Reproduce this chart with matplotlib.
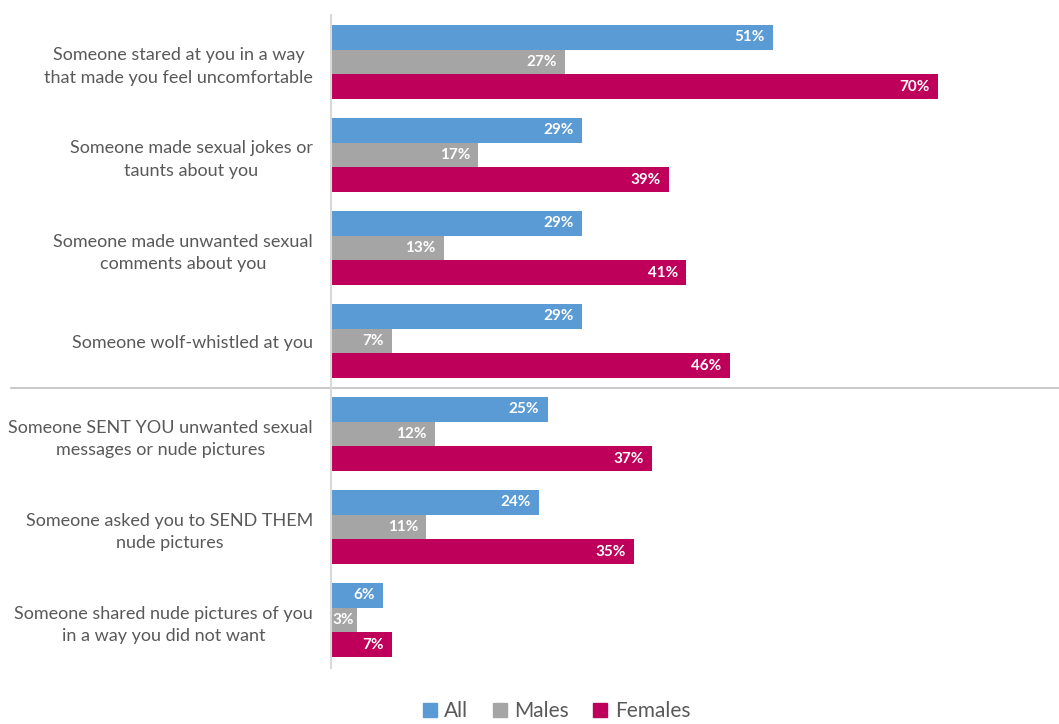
import matplotlib.pyplot as plt
from matplotlib.transforms import blended_transform_factory
from matplotlib.lines import Line2D

categories = [
    'Someone stared at you in a way\nthat made you feel uncomfortable',
    'Someone made sexual jokes or\ntaunts about you',
    'Someone made unwanted sexual\ncomments about you',
    'Someone wolf-whistled at you',
    'Someone SENT YOU unwanted sexual\nmessages or nude pictures',
    'Someone asked you to SEND THEM\nnude pictures',
    'Someone shared nude pictures of you\nin a way you did not want',
]
all_values = [51, 29, 29, 29, 25, 24, 6]
male_values = [27, 17, 13, 7, 12, 11, 3]
female_values = [70, 39, 41, 46, 37, 35, 7]
series_names = ['All', 'Males', 'Females']
colors = ['#5B9BD5', '#A5A5A5', '#BE005A']

plt.rcParams['font.family'] = ['Lato', 'DejaVu Sans']
text_color = '#595959'

fig = plt.figure(figsize=(10.59, 7.24), dpi=100)
ax = fig.add_axes([331 / 1059, 56 / 724, 1 - 331 / 1059, 653 / 724])

y_positions = range(len(categories))
bar_h = 0.265
offsets = [-bar_h, 0, bar_h]
for vals, off, col, name in zip([all_values, male_values, female_values], offsets, colors, series_names):
    bars = ax.barh([p + off for p in y_positions], vals, height=bar_h, color=col, label=name)
    for bar in bars:
        w = bar.get_width()
        yc = bar.get_y() + bar.get_height() / 2
        if w < 5:
            # too narrow: label starts at the axis like Excel does
            ax.annotate(f'{w:.0f}%', (0, yc), xytext=(1, 0), textcoords='offset points',
                        ha='left', va='center', color='white', fontsize=11, fontweight='bold')
        else:
            ax.annotate(f'{w:.0f}%', (w, yc), xytext=(-6, 0), textcoords='offset points',
                        ha='right', va='center', color='white', fontsize=11, fontweight='bold')

ax.set_xlim(0, 84)
ax.set_ylim(6.515, -0.505)
ax.set_yticks(list(y_positions))
ax.set_yticklabels(categories, color=text_color, fontsize=13, multialignment='center',
                   linespacing=1.5)
ax.tick_params(axis='y', length=0, pad=13)
ax.set_xticks([])
for side in ['top', 'right', 'bottom']:
    ax.spines[side].set_visible(False)
ax.spines['left'].set_color('#D9D9D9')
ax.spines['left'].set_linewidth(1.5)

# separator between the two blocks of questions
trans = blended_transform_factory(fig.transFigure, ax.transData)
ax.plot([0.01, 1.0], [3.5, 3.5], color='#BFBFBF', lw=1.2, transform=trans, clip_on=False)

handles = [Line2D([], [], marker='s', linestyle='', color=c, markersize=10) for c in colors]
fig.legend(handles, series_names, loc='lower center', bbox_to_anchor=(0.524, -0.022),
           ncol=3, frameon=False, fontsize=15, labelcolor=text_color,
           handletextpad=0.2, columnspacing=1.0, handlelength=1.0)

fig.savefig('out.png', dpi=100)
